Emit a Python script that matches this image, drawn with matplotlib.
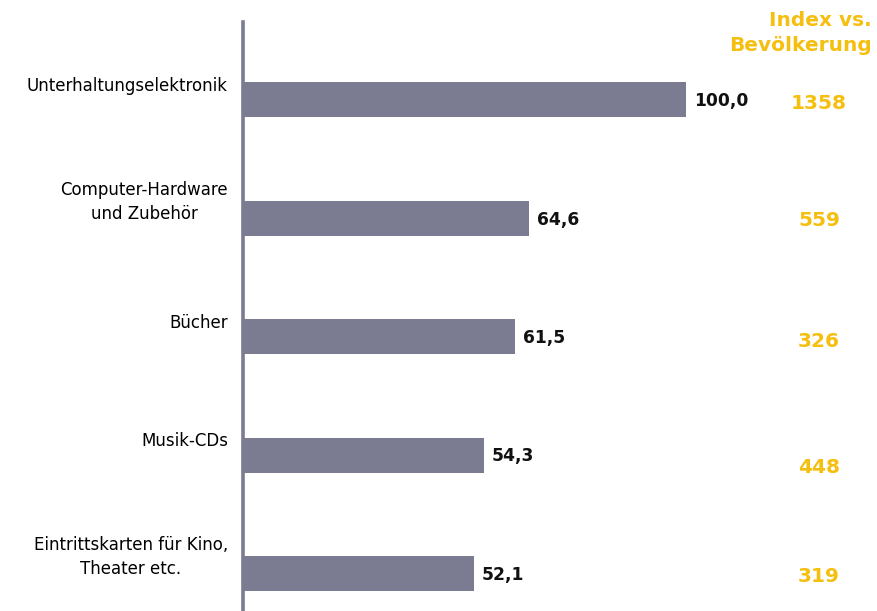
import matplotlib.pyplot as plt
import matplotlib.transforms as mtransforms

# Shares per category and index against population
categories = [
    'Unterhaltungselektronik',
    'Computer-Hardware\nund Zubehör',
    'Bücher',
    'Musik-CDs',
    'Eintrittskarten für Kino,\nTheater etc.',
]
values = [100.0, 64.6, 61.5, 54.3, 52.1]
index_values = [1358, 559, 326, 448, 319]
header = 'Index vs.\nBevölkerung'

BAR_COLOR = '#7b7b91'
INDEX_COLOR = '#f5bf0f'

W, H = 877, 611
fig = plt.figure(figsize=(W / 100, H / 100), dpi=100)

# axes start at the vertical line, 4.43 px per unit on x
ax_left, ax_top = 243, 22
ax = fig.add_axes([ax_left / W, 0, (W - ax_left) / W, (H - ax_top) / H])
px_x = 4.43
px_y = 118.5
ax.set_xlim(0, (W - ax_left) / px_x)
y0 = 99.5
ax.set_ylim((H - y0) / px_y, (ax_top - y0) / px_y)

ypos = list(range(len(categories)))
ax.barh(ypos, values, height=35 / px_y, color=BAR_COLOR, zorder=2)

for s in ['top', 'right', 'bottom']:
    ax.spines[s].set_visible(False)
ax.spines['left'].set_color(BAR_COLOR)
ax.spines['left'].set_linewidth(2.6)
ax.set_xticks([])
ax.set_yticks([])

blend = mtransforms.blended_transform_factory(ax.transAxes, ax.transData)

# category labels sit slightly above the bar centre
label_shift = [-13.5, -16, -14, -14, -16.5]
for y, cat, dy in zip(ypos, categories, label_shift):
    ax.text(-15 / (W - ax_left), y + dy / px_y, cat, transform=blend,
            ha='right', va='center', multialignment='center',
            fontsize=12, color='#000000', linespacing=1.45)

for y, v in zip(ypos, values):
    ax.text(v + 8 / px_x, y + 1.5 / px_y, f'{v:.1f}'.replace('.', ','),
            ha='left', va='center', fontsize=12.3, fontweight='bold',
            color='#111111')

index_shift = [3.5, 2.5, 4.5, 12.5, 3]
for y, iv, dy in zip(ypos, index_values, index_shift):
    ax.text((819 - ax_left) / (W - ax_left), y + dy / px_y, str(iv),
            transform=blend, ha='center', va='center', fontsize=14.5,
            fontweight='bold', color=INDEX_COLOR)

fig.text(872 / W, 1 - 33 / H, header, ha='right', va='center',
         multialignment='right', fontsize=14.5, fontweight='bold',
         color=INDEX_COLOR, linespacing=1.42)

fig.savefig('out.png', dpi=100)
